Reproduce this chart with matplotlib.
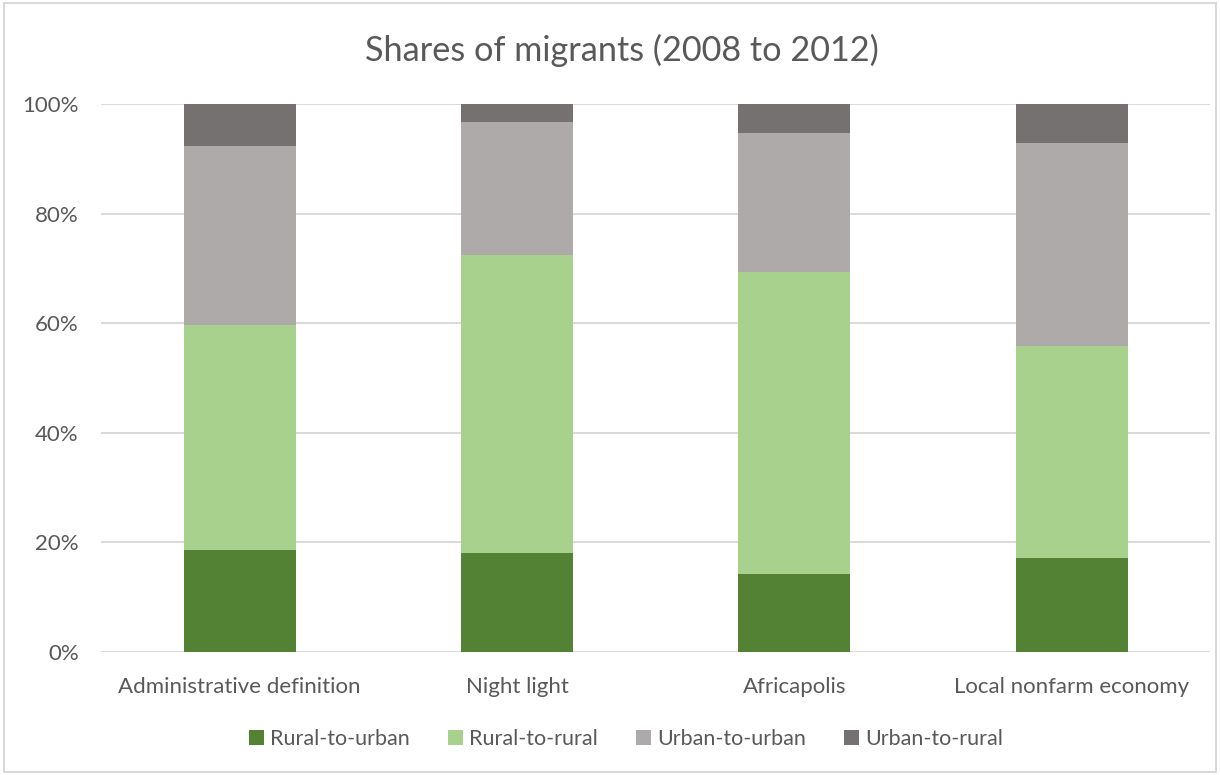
import matplotlib.pyplot as plt
import numpy as np
from matplotlib.patches import Rectangle

plt.rcParams['font.family'] = ['Lato', 'DejaVu Sans']

categories = ['Administrative definition', 'Night light', 'Africapolis', 'Local nonfarm economy']
series_names = ['Rural-to-urban', 'Rural-to-rural', 'Urban-to-urban', 'Urban-to-rural']

# Anteile in Prozent je Kategorie
rural_to_urban = [18.6, 18.1, 14.2, 17.2]
rural_to_rural = [41.1, 54.3, 55.2, 38.6]
urban_to_urban = [32.7, 24.3, 25.4, 37.2]
urban_to_rural = [7.6, 3.3, 5.2, 7.0]

colors = ['#548235', '#A9D18E', '#AEAAAA', '#767171']
text_color = '#595959'
grid_color = '#D9D9D9'

fig = plt.figure(figsize=(12.2, 7.75), dpi=100)
ax = fig.add_axes([0.0828, 0.1591, 0.9092, 0.7063])

x = np.arange(len(categories))
bottom = np.zeros(len(categories))
for name, vals, col in zip(series_names,
                           [rural_to_urban, rural_to_rural, urban_to_urban, urban_to_rural],
                           colors):
    vals = np.array(vals) / 100
    ax.bar(x, vals, width=0.404, bottom=bottom, color=col, label=name, zorder=3)
    bottom += vals

ax.set_xlim(-0.5, len(categories) - 0.5)
ax.set_ylim(0, 1)
ax.set_yticks(np.arange(0, 1.01, 0.2))
ax.set_yticklabels([f'{int(round(v * 100))}%' for v in np.arange(0, 1.01, 0.2)])
ax.set_xticks(x)
ax.set_xticklabels(categories)
ax.tick_params(axis='both', length=0, labelsize=16, labelcolor=text_color)
ax.tick_params(axis='x', pad=18.5)
ax.tick_params(axis='y', pad=16)
for s in ax.spines.values():
    s.set_visible(False)
ax.yaxis.grid(True, color=grid_color, linewidth=1.4, zorder=0)
ax.set_axisbelow(True)

fig.text(0.51, 0.935, 'Shares of migrants (2008 to 2012)', ha='center', va='center',
         fontsize=24.7, color=text_color)

fig.legend(loc='center', bbox_to_anchor=(0.513, 0.047), ncol=4, frameon=False,
           fontsize=15.5, labelcolor=text_color, handlelength=0.7, handleheight=0.7,
           handletextpad=0.3, columnspacing=1.75)

# Rahmen um das Diagramm
fig.patches.append(Rectangle((0.003, 0.004), 0.994, 0.992, transform=fig.transFigure,
                             fill=False, edgecolor=grid_color, linewidth=1.5))

fig.savefig('out.png', dpi=100)
